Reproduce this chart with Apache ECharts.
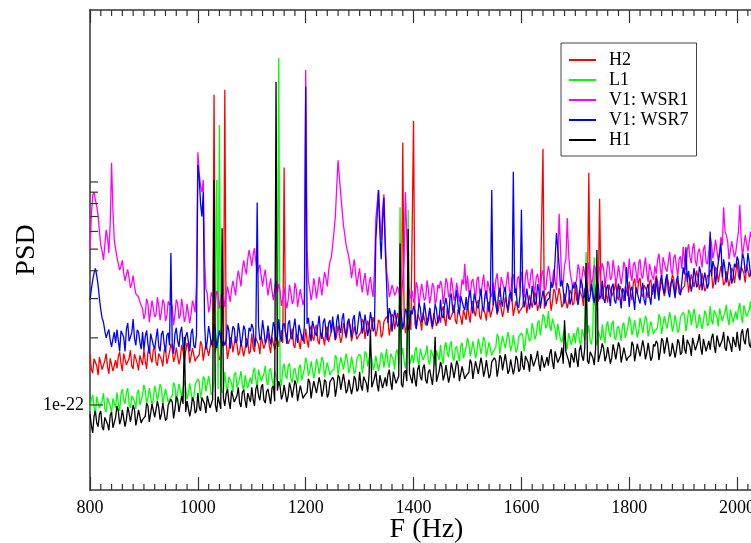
<!DOCTYPE html>
<html><head><meta charset="utf-8">
<script src="https://cdn.jsdelivr.net/npm/echarts@6/dist/echarts.min.js"></script>
<style>html,body{margin:0;padding:0;background:#fff}#c{width:751px;height:543px}</style>
</head><body><div id="c"></div>
<script>
// Frequency bins: main arrays at 800, 805, 810 ... Hz; *_mid arrays at 802.5, 807.5, ... Hz
const F_START = 800, F_STEP = 5, F_MID_OFFSET = 2.5;
// PSD values, in units of 1e-22
const H2 = [
1.68,1.39,1.62,1.36,1.67,1.42,1.70,1.38,1.61,1.41,
1.46,1.73,1.42,1.70,1.49,1.76,1.45,1.72,1.43,1.69,
1.77,1.45,1.82,1.55,1.83,1.50,1.73,1.49,1.80,1.53,
1.88,1.56,1.81,1.52,1.86,1.59,1.90,1.54,1.80,1.57,
1.63,1.93,1.58,1.89,1.66,1.96,24.6,1.91,1.59,1.88,
25.9,1.61,2.01,1.72,2.03,1.67,1.92,1.65,1.99,1.70,
2.09,1.73,2.01,1.69,2.07,1.77,2.11,1.71,2.00,1.75,
1.82,2.16,11.6,2.12,1.86,2.20,1.80,2.14,1.78,2.10,
2.20,1.81,2.27,1.94,2.29,1.87,2.16,1.85,2.25,1.92,
2.35,1.95,2.27,1.90,2.33,1.99,2.38,1.93,2.25,1.97,
2.05,2.43,1.98,2.39,2.10,2.48,2.03,2.41,2.01,2.36,
2.49,2.05,2.56,2.19,2.59,2.12,15.0,2.10,2.54,2.17,
18.8,2.21,2.58,2.16,2.65,2.26,2.70,2.19,2.55,2.24,
2.34,2.77,2.26,2.72,2.39,2.82,2.31,2.74,2.29,2.69,
2.85,2.34,2.93,2.50,2.95,2.42,2.79,2.39,2.90,2.47,
3.07,2.54,2.96,2.48,3.04,2.59,3.10,2.51,2.93,2.57,
2.67,3.16,2.58,3.10,2.73,3.22,2.64,3.13,14.1,3.07,
3.22,2.65,3.31,2.83,3.34,2.74,3.16,2.71,3.28,2.80,
3.43,2.84,3.31,2.78,3.40,11.0,3.46,2.81,3.28,8.4,
2.98,3.53,2.88,3.47,3.05,3.60,2.95,3.50,2.92,3.43,
3.58,2.95,3.69,3.15,3.72,3.05,3.52,3.02,3.65,3.12,
3.81,3.15,3.67,3.08,3.77,3.22,3.84,3.11,3.63,3.18,
3.31,3.92,3.20,3.85,3.38,4.00,3.28,3.89,3.24,3.82,
4.04,3.33,4.16,3.55,4.20,3.44,3.97,3.40,4.12,3.52,
4.38,3.62,4.22,3.54,4.34,3.70,4.42,3.58,4.18,3.66];
const H2_mid = [
1.45,1.61,1.50,1.64,1.44,1.58,1.48,1.62,1.42,1.59,
1.65,1.53,1.70,1.51,1.62,1.49,1.69,1.54,1.67,1.51,
1.57,1.73,1.62,1.77,1.55,1.70,1.60,1.75,1.53,1.72,
1.78,1.64,1.83,1.62,1.74,1.61,1.81,1.66,1.80,1.62,
1.68,1.86,1.73,1.89,1.66,1.82,1.72,1.88,1.65,1.84,
1.90,1.76,1.96,1.74,1.87,1.72,1.94,1.78,1.92,1.74,
1.81,2.00,1.86,2.03,1.79,1.96,1.84,2.01,1.77,1.98,
2.06,1.90,2.12,1.88,2.02,1.86,2.10,1.92,2.08,1.88,
1.96,2.16,2.02,2.20,1.94,2.12,2.00,2.18,1.92,2.14,
2.23,2.05,2.29,2.03,2.18,2.01,2.27,2.08,2.25,2.03,
2.12,2.34,2.19,2.39,2.10,2.30,2.16,2.36,2.07,2.32,
2.42,2.24,2.49,2.21,2.38,2.19,2.47,2.26,2.45,2.21,
2.31,2.55,2.38,2.60,2.28,2.50,2.36,2.58,2.26,2.53,
2.64,2.44,2.72,2.41,2.59,2.39,2.69,2.46,2.67,2.41,
2.53,2.79,2.61,2.85,2.50,2.74,2.58,2.82,2.47,2.77,
2.90,2.68,2.99,2.65,2.85,2.62,2.96,2.71,2.93,2.65,
2.76,3.05,2.84,3.10,2.73,2.99,2.81,3.07,2.70,3.02,
3.13,2.89,3.22,2.86,3.07,2.83,3.19,2.92,3.16,2.86,
2.96,3.28,3.06,3.34,2.93,3.21,3.03,3.31,2.90,3.24,
3.37,3.11,3.47,3.08,3.30,3.05,3.43,3.14,3.40,3.08,
3.18,3.52,3.28,3.58,3.15,3.45,3.25,3.55,3.12,3.48,
3.60,3.32,3.70,3.29,3.53,3.25,3.67,3.36,3.63,3.29,
3.42,3.78,3.53,3.85,3.38,3.71,3.49,3.82,3.35,3.74,
3.93,3.63,4.04,3.59,3.86,3.55,4.01,3.67,3.97,3.59,
3.78,4.18,3.90,4.26,3.74,4.10,3.86,4.22,3.70,4.14];
const L1 = [
0.94,1.11,0.91,1.09,0.96,1.13,0.93,1.10,0.92,1.08,
1.14,0.94,1.18,1.01,1.19,0.97,1.12,0.96,1.17,1.00,
1.23,1.02,1.19,1.00,1.22,1.04,1.24,1.01,1.18,1.03,
1.07,1.26,1.03,1.24,1.09,1.29,1.06,1.25,1.04,1.23,
1.31,1.07,1.34,1.15,1.35,1.11,1.28,10.2,18.0,1.13,
1.41,1.16,1.36,1.14,1.40,1.19,1.42,1.15,1.34,1.18,
1.24,1.47,1.20,1.44,1.27,1.50,1.23,1.46,1.22,1.43,
36.0,1.22,1.53,1.31,1.54,1.26,1.46,1.25,1.52,1.29,
1.63,1.35,1.57,1.32,1.61,1.38,1.64,1.33,1.55,1.36,
1.41,1.67,1.36,1.64,1.44,1.70,1.39,1.65,1.38,1.62,
1.69,1.39,1.74,1.49,1.75,1.44,1.66,1.42,1.72,1.47,
1.78,1.47,1.72,1.44,1.77,7.7,1.80,1.46,7.5,1.49,
1.54,1.82,1.49,1.79,1.57,1.85,1.52,1.80,1.50,1.77,
1.86,1.53,1.91,1.64,1.93,1.58,1.83,1.57,1.90,1.62,
2.00,1.66,1.93,1.62,1.98,1.69,2.02,1.64,1.91,1.67,
1.76,2.08,1.70,2.04,1.80,2.12,1.74,2.06,1.72,2.02,
2.10,1.74,2.21,1.93,2.33,1.97,2.33,2.05,2.55,2.21,
2.64,2.15,2.42,1.96,2.31,1.91,2.22,1.78,2.09,1.85,
1.89,2.23,1.82,2.19,4.85,2.28,1.87,4.6,1.85,2.17,
2.30,1.89,2.37,2.02,2.39,1.96,2.26,1.94,2.34,2.00,
2.49,2.06,2.40,2.01,2.46,2.10,2.51,2.03,2.37,2.08,
2.15,2.55,2.08,2.50,2.20,2.60,2.13,2.53,2.11,2.48,
2.60,2.14,2.67,2.28,2.70,2.21,2.55,2.19,2.65,2.26,
2.78,2.30,2.68,2.25,2.76,2.35,2.81,2.28,2.66,2.33,
2.41,2.86,2.33,2.80,2.46,2.91,2.38,2.83,2.36,2.78];
const L1_mid = [
1.06,0.98,1.09,0.97,1.04,0.96,1.08,0.99,1.07,0.97,
1.02,1.12,1.05,1.14,1.01,1.10,1.04,1.13,1.00,1.11,
1.16,1.08,1.20,1.06,1.14,1.05,1.19,1.09,1.18,1.06,
1.10,1.22,1.14,1.24,1.09,1.19,1.13,1.23,1.08,1.21,
1.27,1.17,1.31,1.16,1.24,1.15,1.29,1.18,1.28,1.16,
1.22,1.34,1.25,1.37,1.20,1.32,1.24,1.36,1.19,1.33,
1.40,1.30,1.44,1.28,1.38,1.27,1.43,1.31,1.42,1.28,
1.32,1.46,1.36,1.49,1.31,1.43,1.35,1.47,1.29,1.45,
1.54,1.42,1.58,1.41,1.51,1.39,1.57,1.44,1.55,1.41,
1.45,1.61,1.50,1.64,1.44,1.58,1.48,1.62,1.42,1.59,
1.64,1.52,1.69,1.50,1.61,1.49,1.67,1.53,1.66,1.50,
1.54,1.70,1.59,1.73,1.52,1.67,1.57,1.72,1.51,1.68,
1.74,1.60,1.79,1.59,1.70,1.57,1.77,1.62,1.75,1.59,
1.65,1.83,1.71,1.86,1.64,1.79,1.69,1.84,1.62,1.81,
1.89,1.75,1.95,1.73,1.86,1.71,1.93,1.77,1.91,1.73,
1.81,2.01,1.87,2.04,1.80,1.97,1.85,2.02,1.78,1.99,
2.05,1.92,2.17,1.98,2.17,2.06,2.39,2.24,2.48,2.27,
2.26,2.44,2.20,2.31,1.96,2.08,1.93,2.10,1.86,2.10,
2.13,1.97,2.19,1.95,2.09,1.93,2.17,1.99,2.15,1.95,
2.04,2.26,2.11,2.30,2.02,2.21,2.09,2.28,2.00,2.24,
2.35,2.17,2.42,2.15,2.31,2.12,2.40,2.19,2.37,2.15,
2.22,2.46,2.29,2.50,2.20,2.41,2.27,2.48,2.18,2.43,
2.53,2.33,2.60,2.31,2.48,2.28,2.58,2.36,2.55,2.31,
2.40,2.66,2.48,2.71,2.38,2.61,2.45,2.68,2.35,2.63,
2.72,2.52,2.80,2.49,2.67,2.46,2.78,2.54,2.75,2.49];
const V1_WSR1 = [
4.95,8.74,8.30,7.10,5.20,4.47,6.10,4.80,12.2,5.50,
4.60,4.03,4.45,3.60,4.05,3.35,3.80,3.15,3.05,2.85,
2.43,3.00,2.35,2.94,2.48,3.05,2.40,2.97,2.38,2.92,
2.89,2.28,2.97,2.44,2.99,2.36,2.84,2.33,2.94,2.60,
13.6,9.6,10.2,3.30,2.60,3.20,2.65,3.25,2.70,3.30,
2.75,3.40,2.90,3.60,3.10,4.00,3.40,4.45,3.85,4.95,
4.20,5.05,3.90,4.25,3.40,4.05,3.10,3.70,2.95,3.60,
3.49,2.78,3.37,2.71,3.46,2.84,3.53,2.75,3.31,2.81,
31.8,3.60,2.95,3.70,3.00,3.75,3.10,3.95,3.40,4.40,
5.20,7.00,12.5,8.80,6.40,5.20,4.60,3.70,4.50,3.40,
4.10,3.20,3.90,3.10,3.75,3.05,6.8,9.2,5.5,8.8,
4.0,3.05,3.45,3.10,3.40,2.95,3.60,9.0,3.40,3.00,
2.88,3.55,2.78,3.49,2.94,3.62,2.85,3.52,2.82,3.46,
3.60,2.84,3.70,3.04,3.73,2.94,3.53,2.90,3.66,4.3,
3.81,3.03,3.67,2.96,3.77,3.09,3.84,2.99,3.60,3.06,
3.15,3.89,3.05,3.82,3.22,3.96,3.12,3.85,3.08,3.78,
3.95,3.11,4.05,3.33,4.09,3.22,3.87,3.19,4.02,3.29,
4.20,3.34,4.05,3.26,7.2,3.41,4.24,6.9,3.98,3.38,
3.47,4.27,3.35,4.20,3.54,4.35,3.43,4.24,3.39,4.16,
4.31,3.40,4.42,3.63,4.46,3.52,4.23,3.48,4.38,3.59,
4.54,3.60,4.37,3.52,4.50,3.69,4.58,3.56,4.29,3.65,
3.87,4.77,3.74,4.69,3.96,4.86,3.83,4.73,3.78,4.64,
5.12,4.04,5.26,4.32,5.31,4.18,5.03,4.14,5.22,4.28,
5.71,4.54,5.51,4.44,5.66,7.7,5.76,4.49,5.41,4.59,
4.77,7.9,4.61,5.78,4.88,5.99,4.72,5.83,4.66,5.72];
const V1_WSR1_mid = [
7.0,9.0,7.8,6.0,4.9,5.2,5.6,6.5,7.5,5.0,
4.30,4.20,3.90,3.85,3.70,3.50,3.40,3.20,2.90,2.70,
2.57,2.84,2.65,2.89,2.54,2.78,2.62,2.86,2.51,2.81,
2.76,2.54,2.84,2.52,2.70,2.49,2.81,2.57,2.78,3.5,
11.0,9.0,4.5,3.16,2.77,3.04,2.86,3.13,2.74,3.07,
3.10,3.15,3.30,3.35,3.65,3.70,4.05,4.10,4.50,4.60,
4.70,4.40,4.10,3.80,3.75,3.50,3.40,3.25,3.30,3.20,
3.24,3.00,3.34,2.96,3.18,2.93,3.31,3.03,3.28,3.00,
5.0,3.30,3.20,3.40,3.30,3.45,3.50,3.70,4.00,4.60,
6.0,9.5,10.5,7.5,5.8,4.9,4.2,4.1,3.9,3.8,
3.50,3.60,3.40,3.50,3.30,4.0,8.0,7.0,7.5,5.5,
3.60,3.20,3.30,3.20,3.25,3.10,4.5,5.5,3.20,3.25,
3.04,3.36,3.14,3.42,3.01,3.30,3.10,3.39,2.98,3.33,
3.43,3.17,3.53,3.14,3.37,3.10,3.50,3.20,3.47,3.25,
3.23,3.57,3.33,3.64,3.20,3.50,3.30,3.60,3.16,3.54,
3.64,3.36,3.75,3.33,3.57,3.29,3.71,3.40,3.68,3.33,
3.44,3.80,3.55,3.87,3.40,3.73,3.51,3.84,3.37,3.76,
3.90,3.60,4.01,4.6,5.0,3.53,4.5,4.8,3.94,3.56,
3.66,4.04,3.77,4.12,3.62,3.97,3.73,4.08,3.58,4.00,
4.11,3.79,4.23,3.75,4.03,3.71,4.19,3.83,4.15,3.75,
3.85,4.25,3.97,4.33,3.81,4.17,3.93,4.29,3.77,4.21,
4.47,4.13,4.60,4.09,4.39,4.04,4.56,4.17,4.52,4.09,
4.47,4.94,4.61,5.03,4.42,4.84,4.56,4.98,4.37,4.89,
5.30,4.90,5.46,4.85,5.20,6.0,5.41,4.95,5.36,4.85,
6.0,5.57,5.19,5.67,4.98,5.46,5.14,5.62,4.93,5.51];
const V1_WSR7 = [
2.96,3.63,4.10,3.45,2.67,2.35,2.00,2.18,1.82,2.12,
2.18,1.74,2.14,1.74,2.33,1.96,2.43,1.85,2.12,1.78,
1.76,2.16,1.70,2.13,1.79,2.20,1.74,2.15,1.72,2.11,
4.80,1.70,2.22,1.82,2.24,1.76,2.12,1.74,2.20,1.80,
11.9,8.0,9.0,1.77,2.26,1.86,2.31,1.80,2.16,1.84,
1.85,2.29,1.79,2.25,1.90,2.33,1.83,2.27,1.81,2.22,
2.31,1.82,8.1,1.95,2.40,1.89,2.27,1.87,2.35,1.93,
2.42,1.92,2.33,1.88,2.40,1.97,2.44,1.90,2.29,1.94,
26.7,2.46,1.93,2.42,2.04,2.51,1.98,2.44,1.95,2.40,
2.49,1.96,2.55,2.10,2.58,2.03,2.44,2.01,2.53,2.07,
2.63,2.09,2.54,2.04,2.61,2.14,5.5,9.2,4.5,8.5,
3.5,2.72,2.13,2.67,2.25,2.77,2.18,2.70,2.16,2.65,
2.78,2.19,2.86,2.35,2.88,2.27,2.73,2.24,2.83,2.32,
2.97,2.45,3.02,2.44,3.16,2.59,3.28,2.55,3.07,2.66,
2.66,3.27,2.57,3.22,2.71,3.33,2.63,3.25,2.60,9.2,
3.27,2.58,3.36,2.76,3.39,2.67,3.21,11.1,3.33,2.73,
7.5,2.74,3.33,2.68,3.42,2.80,3.48,2.71,3.26,2.77,
2.88,3.55,3.60,5.9,4.2,3.62,2.85,3.52,2.82,3.46,
3.55,2.80,3.65,3.00,3.68,2.90,3.49,2.87,3.62,2.97,
3.61,2.87,3.46,2.78,3.50,2.85,3.50,2.71,3.24,4.16,
2.75,3.39,2.67,3.36,2.85,3.53,2.80,3.49,2.82,3.50,
3.73,2.94,3.83,3.15,3.86,3.04,3.66,3.01,3.80,3.11,
4.14,5.1,4.00,3.22,4.11,3.37,4.18,3.26,3.92,3.33,
6.0,4.42,3.46,4.34,5.3,4.50,3.54,4.38,3.50,4.30,
4.63,3.66,4.76,3.91,4.80,3.78,4.55,3.74,4.72,3.87];
const V1_WSR7_mid = [
3.30,3.90,3.80,3.00,2.45,2.15,2.10,1.95,1.98,1.90,
1.95,2.15,2.01,2.19,1.93,2.11,1.99,2.17,1.91,2.13,
2.03,1.87,2.09,1.85,1.99,1.83,2.07,1.89,2.05,1.85,
1.88,2.08,1.94,2.12,1.86,2.04,1.92,2.10,1.84,2.06,
10.5,7.0,2.30,1.94,2.08,1.92,2.16,1.98,2.14,1.94,
1.96,2.16,2.02,2.20,1.94,2.12,2.00,2.18,1.92,2.14,
2.20,2.04,2.27,2.01,2.16,1.99,2.25,2.06,2.23,2.01,
2.05,2.27,2.12,2.31,2.03,2.22,2.10,2.29,2.01,2.25,
2.31,2.13,2.38,2.11,2.26,2.09,2.35,2.15,2.33,2.11,
2.17,2.39,2.23,2.44,2.14,2.35,2.21,2.42,2.12,2.37,
2.44,2.26,2.51,2.23,2.40,2.21,7.0,6.0,6.5,5.0,
2.33,2.57,2.40,2.62,2.30,2.52,2.38,2.60,2.28,2.55,
2.65,2.45,2.73,2.42,2.60,2.40,2.70,2.47,2.68,2.42,
2.52,2.81,2.76,3.02,2.68,2.96,2.82,3.08,2.76,3.05,
3.07,2.83,3.16,2.80,3.01,2.77,3.13,2.86,3.10,2.80,
2.85,3.15,2.94,3.21,2.82,3.09,2.91,3.18,2.79,3.12,
3.20,2.96,3.30,2.93,3.14,2.90,3.26,2.99,3.23,2.93,
3.04,3.36,4.5,5.0,3.40,3.30,3.10,3.39,2.98,3.33,
3.39,3.13,3.49,3.10,3.33,3.06,3.46,3.16,3.42,3.10,
2.99,3.31,3.09,3.37,2.96,3.24,3.06,3.34,2.93,3.28,
3.28,3.02,3.37,2.99,3.21,2.96,3.34,3.06,3.31,2.99,
3.25,3.59,3.35,3.66,3.21,3.52,3.32,3.63,3.18,3.56,
3.85,3.55,3.96,3.52,3.77,3.48,3.92,3.59,3.89,3.52,
3.78,4.18,3.90,4.26,3.74,4.10,3.86,4.22,3.70,4.14,
4.42,4.08,4.55,4.04,4.34,4.00,4.51,4.12,4.46,4.04];
const H1 = [
0.91,0.75,0.94,0.80,0.94,0.77,0.89,0.77,0.93,0.79,
0.99,0.82,0.95,0.80,0.98,0.84,1.00,0.81,0.95,0.83,
0.86,1.02,0.84,1.01,0.88,1.04,0.86,1.02,0.85,1.00,
1.06,0.87,1.09,0.93,1.10,2.02,1.04,0.89,1.08,0.92,
1.13,0.94,1.09,0.92,1.12,0.96,10.2,0.93,1.08,6.2,
0.99,1.18,0.96,1.16,1.02,1.20,0.98,1.17,0.97,1.14,
1.20,0.99,1.23,1.05,1.24,1.02,1.18,1.01,1.22,28.1,
1.28,1.06,1.23,1.03,1.26,1.08,1.29,1.04,1.22,1.07,
1.10,1.31,1.07,1.28,1.13,1.33,1.09,1.30,1.08,1.27,
1.33,1.09,1.36,1.17,1.38,1.13,1.30,1.12,1.35,1.15,
1.41,1.16,1.36,1.14,2.17,1.19,1.42,1.15,1.34,1.18,
1.21,1.44,1.17,1.41,1.24,5.3,1.20,1.43,6.15,1.40,
1.47,1.21,1.51,1.29,1.52,1.25,1.44,1.23,2.02,1.27,
1.56,1.29,1.51,1.26,1.55,1.32,1.58,1.28,1.49,1.31,
1.35,1.60,1.31,1.57,1.38,1.63,1.34,1.59,1.32,1.56,
1.63,1.34,1.67,1.43,1.69,1.38,1.60,1.37,1.66,1.41,
1.74,1.44,1.67,1.41,1.72,1.47,1.75,1.42,1.66,1.45,
1.50,1.78,1.45,1.74,1.53,1.81,2.40,1.76,1.47,1.73,
1.80,1.48,1.85,1.58,4.33,1.53,1.76,1.51,4.95,1.56,
1.89,1.57,1.82,1.53,1.87,1.60,1.91,1.55,1.81,1.58,
1.62,1.92,1.57,1.88,1.65,1.95,1.60,1.90,1.58,1.87,
1.94,1.59,1.99,1.70,2.01,1.65,1.90,1.63,1.97,1.68,
2.06,1.70,1.98,1.66,2.04,1.74,2.08,1.68,1.96,1.72,
1.77,2.09,1.71,2.05,1.80,2.13,1.75,2.07,1.73,2.04,
2.13,1.75,2.19,1.87,2.21,1.81,2.09,1.79,2.17,1.85];
const H1_mid = [
0.81,0.89,0.83,0.91,0.80,0.88,0.82,0.90,0.79,0.88,
0.94,0.86,0.96,0.86,0.92,0.85,0.95,0.87,0.95,0.86,
0.89,0.99,0.92,1.01,0.88,0.97,0.91,1.00,0.87,0.98,
1.03,0.95,1.06,0.94,1.01,0.93,1.05,0.96,1.04,0.94,
0.98,1.08,1.01,1.10,0.97,1.06,1.00,1.09,0.96,1.07,
1.12,1.04,1.16,1.03,1.10,1.02,1.14,1.05,1.13,1.03,
1.06,1.18,1.10,1.20,1.05,1.15,1.09,1.19,1.04,1.16,
1.21,1.11,1.24,1.10,1.18,1.09,1.23,1.13,1.22,1.10,
1.14,1.26,1.18,1.28,1.13,1.24,1.16,1.27,1.12,1.25,
1.29,1.19,1.33,1.18,1.26,1.17,1.31,1.20,1.30,1.18,
1.22,1.34,1.25,1.37,1.20,1.32,1.24,1.36,1.19,1.33,
1.37,1.27,1.41,1.25,1.35,1.24,1.40,1.28,1.39,1.25,
1.30,1.44,1.34,1.47,1.29,1.41,1.33,1.45,1.27,1.42,
1.48,1.36,1.52,1.35,1.45,1.33,1.51,1.38,1.49,1.35,
1.40,1.54,1.44,1.57,1.38,1.51,1.43,1.56,1.37,1.53,
1.58,1.46,1.63,1.44,1.55,1.43,1.61,1.47,1.60,1.44,
1.50,1.66,1.55,1.69,1.49,1.63,1.53,1.67,1.47,1.64,
1.70,1.56,1.74,1.55,1.66,1.53,1.73,1.58,1.71,1.55,
1.60,1.76,1.65,1.80,1.58,1.73,1.63,1.78,1.56,1.75,
1.79,1.65,1.84,1.63,1.75,1.62,1.82,1.67,1.81,1.63,
1.67,1.85,1.72,1.88,1.65,1.81,1.71,1.87,1.64,1.83,
1.88,1.74,1.94,1.72,1.85,1.70,1.92,1.76,1.90,1.72,
1.78,1.96,1.83,2.00,1.76,1.93,1.81,1.98,1.74,1.94,
2.00,1.84,2.05,1.82,1.96,1.80,2.04,1.86,2.02,1.82,
1.89,2.09,1.95,2.13,1.87,2.05,1.93,2.11,1.85,2.07];

const seriesNames = ['H2', 'L1', 'V1: WSR1', 'V1: WSR7', 'H1'];
const seriesMain = [H2, L1, V1_WSR1, V1_WSR7, H1];
const seriesMid = [H2_mid, L1_mid, V1_WSR1_mid, V1_WSR7_mid, H1_mid];
const seriesColors = ['#ff0000', '#00ff00', '#ff00ff', '#0000ff', '#000000'];

const X_MIN = 800, X_MAX = 2048, X_MAJOR = 200, X_MINOR = 20;
const Y_MIN = 0.4157, Y_MAX = 59.04;       // in units of 1e-22
const yTickValues = [1, 2, 3, 4, 5, 6, 7, 8, 9, 10];
const xMinorValues = [];
for (let f = X_MIN + X_MINOR; f < X_MAX; f += X_MINOR) if (f % X_MAJOR !== 0) xMinorValues.push(f);

const FONT = 'Liberation Serif';
const AX = '#333';

function buildData(main, mid) {
  const out = [];
  for (let i = 0; i < main.length; i++) {
    out.push([F_START + i * F_STEP, main[i]]);
    if (i < mid.length) out.push([F_START + F_MID_OFFSET + i * F_STEP, mid[i]]);
  }
  return out;
}

const chart = echarts.init(document.getElementById('c'), null, {renderer: 'canvas'});
const series = seriesNames.map((n, k) => ({
  name: n, type: 'line', symbol: 'none', showSymbol: false, sampling: null,
  xAxisIndex: 0, yAxisIndex: 0, z: 2 + k,
  lineStyle: {width: 1.3, color: seriesColors[k]}, itemStyle: {color: seriesColors[k]},
  emphasis: {disabled: true},
  data: buildData(seriesMain[k], seriesMid[k])
}));
series.push({
  type: 'custom', name: 'yticks', silent: true, z: 20, xAxisIndex: 0, yAxisIndex: 0,
  data: yTickValues.map(v => [X_MIN, v]),
  renderItem: (params, api) => {
    const v = api.value(1);
    const p = api.coord([X_MIN, v]);
    const len = v === 1 ? 13 : 8;
    return {type: 'line', shape: {x1: p[0], y1: p[1], x2: p[0] + len, y2: p[1]}, style: {stroke: AX, lineWidth: 1.2}};
  }
});
series.push({
  type: 'custom', name: 'xminor', silent: true, z: 20, xAxisIndex: 0, yAxisIndex: 0,
  data: xMinorValues.map(f => [f, Y_MIN]),
  renderItem: (params, api) => {
    const f = api.value(0);
    const b = api.coord([f, Y_MIN]);
    const t = api.coord([f, Y_MAX]);
    return {type: 'group', children: [
      {type: 'line', shape: {x1: b[0], y1: b[1], x2: b[0], y2: b[1] - 6}, style: {stroke: AX, lineWidth: 1.2}},
      {type: 'line', shape: {x1: t[0], y1: t[1], x2: t[0], y2: t[1] + 6}, style: {stroke: AX, lineWidth: 1.2}}
    ]};
  }
});

const xCommon = {
  type: 'value', min: X_MIN, max: X_MAX, interval: X_MAJOR,
  splitLine: {show: false},
  axisLine: {show: true, lineStyle: {color: AX, width: 1.5}},
  axisTick: {show: true, inside: true, length: 13, lineStyle: {color: AX, width: 1.2}},
  minorTick: {show: false}
};

chart.setOption({
  animation: false,
  backgroundColor: '#fff',
  grid: {left: 90, top: 10, width: 673, height: 480, containLabel: false, outerBoundsMode: 'none', show: false},
  legend: {
    data: seriesNames, orient: 'vertical', left: 561, top: 43,
    padding: [8, 8, 7, 8], itemWidth: 27, itemHeight: 2, itemGap: 2, icon: 'rect',
    borderColor: '#444', borderWidth: 1, borderRadius: 0, backgroundColor: '#fff',
    selectedMode: false,
    textStyle: {fontFamily: FONT, fontSize: 18, color: '#000', lineHeight: 18, padding: [0, 0, 0, 8]}
  },
  xAxis: [
    Object.assign({}, xCommon, {
      position: 'bottom',
      name: 'F (Hz)', nameLocation: 'middle', nameGap: 26, nameMoveOverlap: false,
      nameTextStyle: {fontFamily: FONT, fontSize: 28, color: '#000'},
      axisLabel: {show: true, margin: 9, fontFamily: FONT, fontSize: 18, color: '#000',
        formatter: v => (v % X_MAJOR === 0 ? String(v) : '')}
    }),
    Object.assign({}, xCommon, {position: 'top', axisLabel: {show: false}})
  ],
  yAxis: {
    type: 'log', logBase: 10, min: Y_MIN, max: Y_MAX,
    name: 'PSD', nameLocation: 'middle', nameGap: 49, nameRotate: 90, nameMoveOverlap: false,
    nameTextStyle: {fontFamily: FONT, fontSize: 28, color: '#000'},
    splitLine: {show: false},
    axisLine: {show: true, lineStyle: {color: AX, width: 1.5}},
    axisTick: {show: false},
    minorTick: {show: false},
    axisLabel: {show: true, margin: 6, fontFamily: FONT, fontSize: 18, color: '#000',
      formatter: v => (Math.abs(v - 1) < 1e-9 ? '1e-22' : '')}
  },
  series: series
});
</script></body></html>
